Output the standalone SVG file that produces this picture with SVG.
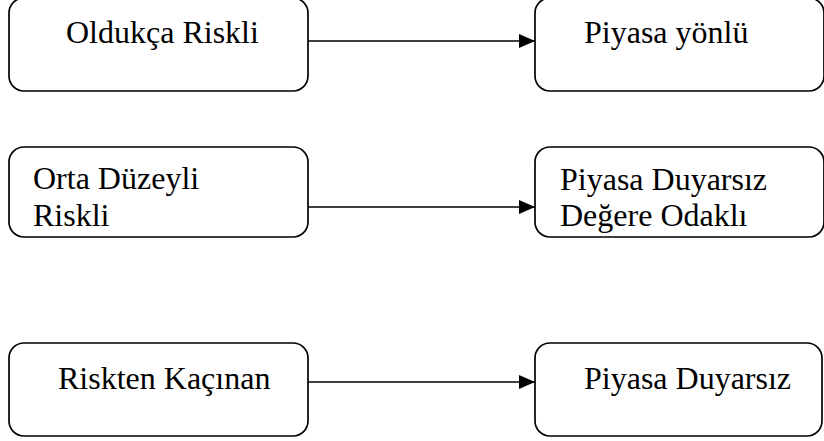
<svg xmlns="http://www.w3.org/2000/svg" width="824" height="441" viewBox="0 0 824 441">
<style>
.box{fill:#fff;stroke:#000;stroke-width:1.7}
.t{font-family:"Liberation Serif","Times New Roman",serif;font-size:32px;fill:#000}
.c{stroke:#000;stroke-width:1.7;fill:none}
</style>
<defs>
<marker id="ah" viewBox="0 0 16 14" refX="16" refY="7" markerWidth="16" markerHeight="14" markerUnits="userSpaceOnUse" orient="auto">
<path d="M0,0 L16,7 L0,14 Z" fill="#000"/>
</marker>
</defs>
<rect width="824" height="441" fill="#fff"/>
<g id="n1"><rect class="box" x="9" y="-2" width="299" height="93" rx="15"/><text class="t" x="66" y="43">Oldukça Riskli</text></g>
<g id="n2"><rect class="box" x="535" y="-2" width="289" height="93" rx="15"/><text class="t" x="584" y="43">Piyasa yönlü</text></g>
<g id="n3"><rect class="box" x="9" y="147" width="299" height="90" rx="15"/><text class="t" x="33" y="189">Orta Düzeyli</text><text class="t" x="33" y="226">Riskli</text></g>
<g id="n4"><rect class="box" x="535" y="147" width="289" height="90" rx="15"/><text class="t" x="560" y="190">Piyasa Duyarsız</text><text class="t" x="560" y="226">Değere Odaklı</text></g>
<g id="n5"><rect class="box" x="9" y="343" width="299" height="93" rx="15"/><text class="t" x="58" y="389">Riskten Kaçınan</text></g>
<g id="n6"><rect class="box" x="535" y="343" width="287" height="93" rx="15"/><text class="t" x="584" y="389">Piyasa Duyarsız</text></g>
<g id="connectors">
<line class="c" x1="308" y1="41" x2="535" y2="41" marker-end="url(#ah)"/>
<line class="c" x1="308" y1="207" x2="535" y2="207" marker-end="url(#ah)"/>
<line class="c" x1="308" y1="382" x2="535" y2="382" marker-end="url(#ah)"/>
</g>
</svg>
